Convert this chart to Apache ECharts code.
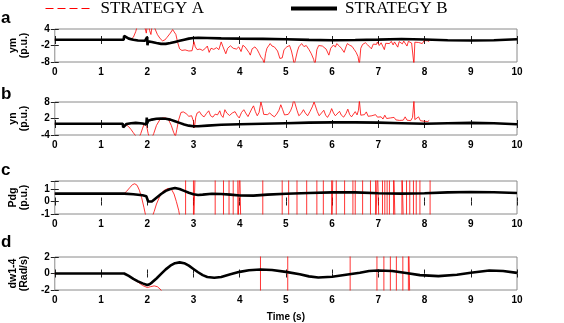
<!DOCTYPE html>
<html><head><meta charset="utf-8">
<script src="https://cdn.jsdelivr.net/npm/echarts@6/dist/echarts.min.js"></script>
<style>html,body{margin:0;padding:0;background:#fff}#c{width:564px;height:323px}</style>
</head><body><div id="c"></div><script>
// ---- data (time [s], value) ----
const blackA = [[0,0.1],[1.49,0.1],[1.5,1.5],[1.52,1.0],[1.6,0.5],[1.7,0.1],[1.8,-0.2],[1.95,-0.3],[1.99,-0.2],[2.0,1.1],[2.005,-1.9],[2.02,-0.5],[2.1,-0.7],[2.2,-1.1],[2.3,-1.4],[2.4,-1.4],[2.5,-1.1],[2.6,-0.7],[2.7,-0.3],[2.8,0.1],[2.9,0.5],[3.0,0.75],[3.1,0.8],[3.3,0.75],[3.6,0.6],[4.0,0.5],[4.5,0.4],[5.0,0.25],[5.5,0.05],[6.0,-0.1],[6.5,0.0],[7.0,0.15],[7.5,0.35],[8.0,0.2],[8.5,-0.1],[9.0,-0.2],[9.5,-0.1],[10,0.25]];
const redA = [[0,0.1],[1.49,0.1],[1.5,1.5],[1.52,1.0],[1.6,0.5],[1.65,0.3],[1.7,1.0],[1.75,3.0],[1.8,6],[1.85,8],[1.9,6],[1.95,4.5],[1.98,2.5],[2.0,5],[2.02,6],[2.05,3.5],[2.08,2.0],[2.1,4.5],[2.13,6],[2.17,4],[2.22,2],[2.28,0.5],[2.33,-0.3],[2.38,0.0],[2.43,1.0],[2.5,2.5],[2.55,3.8],[2.58,4.5],[2.62,2],[2.66,-1],[2.7,-3.2],[2.75,-3.8],[2.82,-3.6],[2.9,-4.0],[2.97,-3.9],[3.01,-0.6],[3.04,-2.5],[3.08,-3.5],[3.14,-3.3],[3.2,-3.8],[3.26,-3.0],[3.3,-2.2],[3.34,-4.5],[3.38,-3.0],[3.44,-3.4],[3.5,-2.8],[3.55,-3.5],[3.6,-0.7],[3.64,-2.5],[3.7,-5],[3.74,-3],[3.8,-2.1],[3.86,-3.0],[3.93,-3.3],[3.98,-2.5],[4.03,-4.2],[4.07,-1.9],[4.12,-2.6],[4.16,-3.1],[4.2,-4.5],[4.23,-5.5],[4.27,-3.2],[4.33,-2.5],[4.38,-3.5],[4.42,-4.8],[4.46,-6.2],[4.5,-7.0],[4.53,-8.5],[4.56,-5],[4.59,-3],[4.66,-1.3],[4.7,-2.2],[4.75,-2.5],[4.82,-4],[4.87,-6.7],[4.92,-6.5],[4.96,-3.5],[5.02,-2.5],[5.08,-2.0],[5.12,-4],[5.15,-6.2],[5.18,-9],[5.21,-8.5],[5.25,-4],[5.28,-2.5],[5.34,-1.3],[5.39,-2.4],[5.44,-2.0],[5.5,-3.5],[5.55,-5],[5.6,-7],[5.63,-9],[5.67,-3.5],[5.71,-2.0],[5.74,-1.3],[5.79,-2.2],[5.83,-1.6],[5.87,-3.3],[5.93,-5.5],[5.97,-3.0],[6.03,-1.8],[6.07,-2.6],[6.1,-1.3],[6.15,-2.1],[6.2,-3.0],[6.26,-4.5],[6.3,-2.5],[6.33,-1.3],[6.38,-1.9],[6.43,-2.3],[6.48,-3.5],[6.52,-4.5],[6.56,-6.0],[6.59,-9],[6.62,-3.0],[6.66,-1.6],[6.72,-1.0],[6.77,-1.8],[6.81,-1.2],[6.85,-3.2],[6.89,-1.5],[6.92,-0.9],[6.96,-1.6],[6.98,-0.7],[7.02,-2.0],[7.06,-1.0],[7.1,-1.5],[7.13,-3.5],[7.16,-1.2],[7.2,-0.6],[7.24,-1.3],[7.28,-0.5],[7.32,-1.8],[7.35,-0.7],[7.39,-1.1],[7.42,-2.6],[7.45,-0.6],[7.49,-0.3],[7.52,-1.4],[7.55,-0.4],[7.59,-1.0],[7.62,-2.2],[7.65,-0.5],[7.69,-0.2],[7.72,-1.1],[7.75,-0.4],[7.77,-9],[7.79,-0.8],[7.83,-0.1],[7.87,-0.9],[7.91,-0.3],[7.95,-1.3],[7.99,-0.2],[8.03,-0.8],[8.07,-0.3],[8.1,-0.6]];

const blackB = [[0,0.1],[1.47,0.1],[1.48,-1.2],[1.5,-0.6],[1.55,0],[1.65,0.3],[1.75,0.4],[1.9,0.2],[1.98,-0.2],[1.99,2.3],[2.0,0.2],[2.02,1.2],[2.1,1.6],[2.2,1.9],[2.3,2.0],[2.4,1.9],[2.5,1.6],[2.6,1.0],[2.7,0.4],[2.8,-0.2],[2.9,-0.6],[3.0,-0.8],[3.1,-0.8],[3.3,-0.6],[3.6,-0.3],[4.0,-0.1],[4.5,0.1],[5.0,0.3],[5.5,0.5],[6.0,0.6],[6.5,0.6],[7.0,0.5],[7.5,0.3],[8.0,0.1],[8.5,0.3],[9.0,0.4],[9.5,0.3],[10,-0.1]];
const redB = [[0,0.1],[1.47,0.1],[1.48,-1.2],[1.5,-0.6],[1.55,-0.3],[1.6,-1.0],[1.65,-2.0],[1.7,-3.2],[1.76,-4.5],[1.82,-5],[1.86,-3.5],[1.9,-1.5],[1.94,0.2],[1.97,0.5],[1.99,-1],[2.02,-3.5],[2.05,-5],[2.1,-5],[2.14,-3.5],[2.2,-0.5],[2.27,1.5],[2.33,2.2],[2.4,2.2],[2.46,1.6],[2.52,-0.5],[2.57,-3],[2.61,-4.5],[2.64,-2],[2.68,1.5],[2.73,4.2],[2.78,4.4],[2.84,3.8],[2.9,2.8],[2.96,3.0],[3.0,1.0],[3.02,-1.4],[3.05,2.5],[3.08,4.0],[3.13,4.5],[3.18,3.2],[3.23,2.6],[3.28,3.8],[3.33,4.8],[3.37,3.0],[3.42,2.5],[3.47,3.6],[3.52,3.3],[3.57,4.8],[3.6,3.2],[3.64,2.4],[3.68,5.2],[3.72,4.0],[3.78,3.1],[3.84,4.0],[3.9,4.5],[3.95,3.0],[3.99,2.2],[4.04,4.2],[4.09,5.2],[4.13,4.0],[4.18,2.7],[4.22,3.2],[4.27,5.8],[4.3,6.6],[4.34,4.5],[4.38,3.0],[4.42,4.2],[4.46,8],[4.49,6],[4.52,3.5],[4.56,2.8],[4.6,3.4],[4.65,4.0],[4.7,3.2],[4.75,2.6],[4.8,3.6],[4.85,5.0],[4.89,7.0],[4.93,5.2],[4.97,3.3],[5.01,2.6],[5.05,3.5],[5.1,4.8],[5.14,6.5],[5.17,9],[5.2,9],[5.24,5.0],[5.28,3.0],[5.33,3.8],[5.38,5.2],[5.42,4.0],[5.47,3.0],[5.52,4.5],[5.57,6.2],[5.61,8.0],[5.64,7.5],[5.68,4.5],[5.72,3.0],[5.77,4.0],[5.82,5.0],[5.86,3.2],[5.9,2.4],[5.95,3.8],[5.99,5.6],[6.03,4.0],[6.07,3.0],[6.11,3.6],[6.16,4.6],[6.2,3.2],[6.25,2.5],[6.3,3.8],[6.34,5.4],[6.38,3.4],[6.42,2.6],[6.46,3.3],[6.5,4.5],[6.54,3.3],[6.57,5],[6.59,8.5],[6.62,3.2],[6.66,2.5],[6.7,3.4],[6.74,4.4],[6.78,2.8],[6.82,2.2],[6.86,3.0],[6.9,2.3],[6.94,3.4],[6.98,2.5],[7.02,2.0],[7.06,2.6],[7.1,1.8],[7.14,3.2],[7.18,2.0],[7.22,1.5],[7.26,2.2],[7.3,1.6],[7.34,2.4],[7.38,1.5],[7.42,1.9],[7.46,1.3],[7.5,2.0],[7.54,1.4],[7.58,2.6],[7.62,1.4],[7.66,1.8],[7.7,1.2],[7.74,2.4],[7.77,8.5],[7.79,1.6],[7.83,1.0],[7.87,2.6],[7.91,1.2],[7.95,1.8],[7.99,1.0],[8.03,1.4],[8.07,0.9],[8.1,1.3]];

const blackC = [[0,0.63],[1.5,0.63],[1.7,0.58],[1.9,0.5],[1.98,0.42],[2.02,0.0],[2.05,-0.15],[2.1,0.0],[2.2,0.3],[2.3,0.6],[2.4,0.85],[2.5,1.0],[2.6,1.08],[2.7,1.0],[2.8,0.85],[2.9,0.7],[3.0,0.58],[3.1,0.52],[3.2,0.55],[3.4,0.62],[3.6,0.6],[3.8,0.55],[4.0,0.48],[4.3,0.47],[4.6,0.55],[5.0,0.62],[5.5,0.68],[6.0,0.73],[6.5,0.73],[7.0,0.66],[7.5,0.63],[8.0,0.66],[8.5,0.73],[9.0,0.76],[9.5,0.74],[10,0.68]];
const redC = [[0,0.63],[1.5,0.63],[1.55,0.8],[1.62,1.1],[1.68,1.35],[1.73,1.42],[1.78,1.3],[1.83,0.9],[1.88,0.3],[1.93,-0.5],[1.97,-1.2],[2.1,-1.3],[2.15,-0.8],[2.2,-0.2],[2.27,0.4],[2.35,0.85],[2.45,1.05],[2.52,1.0],[2.58,0.6],[2.63,0],[2.68,-0.7],[2.72,-1.5],[2.83,-3],[2.83,3],[3.0,3],[3.0,-3],[3.04,-3],[3.04,3],[3.47,3],[3.47,-3],[3.65,-3],[3.65,3],[3.77,3],[3.77,-3],[3.86,-3],[3.86,3],[3.96,3],[3.96,-3],[4.0,-3],[4.0,3],[4.03,3],[4.03,-3],[4.5,-3],[4.5,3],[4.92,3],[4.92,-3],[5.06,-3],[5.06,3],[5.24,3],[5.24,-3],[5.45,-3],[5.45,3],[5.67,3],[5.67,-3],[5.81,-3],[5.81,3],[5.99,3],[5.99,-3],[6.02,-3],[6.02,3],[6.09,3],[6.09,-3],[6.27,-3],[6.27,3],[6.45,3],[6.45,-3],[6.5,-3],[6.5,3],[6.66,3],[6.66,-3],[6.83,-3],[6.83,3],[6.94,3],[6.94,-3],[6.98,-3],[6.98,3],[7.02,3],[7.02,-3],[7.09,-3],[7.09,3],[7.14,3],[7.14,-3],[7.19,-3],[7.19,3],[7.24,3],[7.24,-3],[7.33,-3],[7.33,3],[7.37,3],[7.37,-3],[7.51,-3],[7.51,3],[7.55,3],[7.55,-3],[7.61,-3],[7.61,3],[7.68,3],[7.68,-3],[7.76,-3],[7.76,3],[7.82,3],[7.82,-3],[7.9,-3],[7.9,3],[8.12,3],[8.12,-3]];

const blackD = [[0,0],[1.5,0],[1.6,-0.3],[1.7,-0.65],[1.8,-0.95],[1.9,-1.2],[2.0,-1.4],[2.05,-1.3],[2.1,-1.1],[2.2,-0.6],[2.3,-0.05],[2.4,0.5],[2.5,0.95],[2.6,1.25],[2.7,1.35],[2.8,1.25],[2.9,0.95],[3.0,0.55],[3.1,0.15],[3.2,-0.2],[3.3,-0.42],[3.45,-0.52],[3.6,-0.42],[3.8,-0.1],[4.0,0.2],[4.2,0.4],[4.45,0.48],[4.7,0.42],[5.0,0.2],[5.3,-0.1],[5.5,-0.35],[5.7,-0.48],[6.0,-0.4],[6.3,-0.15],[6.6,0.1],[6.8,0.3],[7.0,0.36],[7.3,0.3],[7.6,0.05],[7.9,-0.2],[8.3,-0.32],[8.7,-0.15],[9.0,0.1],[9.4,0.36],[9.7,0.3],[10,0.08]];
const redD = [[0,0],[1.5,0],[1.6,-0.32],[1.7,-0.7],[1.8,-1.05],[1.9,-1.45],[2.0,-1.7],[2.07,-1.6],[2.15,-1.5],[2.22,-1.6],[2.3,-2.0],[2.35,-3],[2.4,-6],[4.45,-6],[4.45,6],[5.04,6],[5.04,-6],[6.39,-6],[6.39,6],[6.97,6],[6.97,-6],[7.12,-6],[7.12,6],[7.26,6],[7.26,-6],[7.39,-6],[7.39,6],[7.53,6],[7.53,-6],[7.65,-6],[7.65,6],[7.69,6],[7.69,-6],[8.1,-6]];

// ---- axes / labels ----
const panelLetters = ['a','b','c','d'];
const yNames = ['ym\n(p.u.)','yn\n(p.u.)','Pdg\n(p.u.)','dw1-4\n(Rad/s)'];
const yMin = [-8,-4,-1,-2];
const yMax = [4,8,1.64,2];
const yStep = [6,6,1,2];
const xMin = 0, xMax = 10, xStep = 1;
const legendNames = ['STRATEGY A','STRATEGY B'];

const redSets = [redA, redB, redC, redD];
const blackSets = [blackA, blackB, blackC, blackD];

// ---- layout ----
const gridTops = [29, 102, 181, 257];
const letterTops = [10, 86, 162, 234];
const GH = 33;
const labelFont = {fontFamily:'Liberation Sans, Arial, sans-serif', fontWeight:'bold', fontSize:10, color:'#000'};
const frame = '#8a8a8a', tickCol = '#222';

const grid = [], xAxis = [], yAxis = [], series = [], title = [];
gridTops.forEach((t, i) => {
  grid.push({left:47, width:470, top:t, height:GH, show:true, borderColor:frame, borderWidth:1, backgroundColor:'transparent'});
  const last = i === 3;
  xAxis.push({type:'value', gridIndex:i, min:xMin, max:xMax, interval:xStep, position:'bottom',
    axisLine:{show:false}, splitLine:{show:false},
    axisTick:{show:true, inside:true, length:4, lineStyle:{color:tickCol, width:1}},
    axisLabel:Object.assign({margin:5}, labelFont),
    name: last ? 'Time (s)' : '', nameLocation:'middle', nameGap:22,
    nameTextStyle:Object.assign({}, labelFont)});
  xAxis.push({type:'value', gridIndex:i, min:xMin, max:xMax, interval:xStep, position:'top',
    axisLine:{show:false}, splitLine:{show:false}, axisLabel:{show:false},
    axisTick:{show:true, inside:true, length:4, lineStyle:{color:tickCol, width:1}}});
  yAxis.push({type:'value', gridIndex:i, min:yMin[i], max:yMax[i], interval:yStep[i], position:'left',
    axisLine:{show:false}, splitLine:{show:false},
    axisTick:{show:true, inside:true, length:4, lineStyle:{color:tickCol, width:1}},
    axisLabel:Object.assign({margin:5, formatter:(v)=> (Math.abs(v - Math.round(v)) < 1e-9 ? String(Math.round(v)) : '')}, labelFont),
    name: yNames[i], nameLocation:'middle', nameRotate:90, nameGap:24,
    nameTextStyle:Object.assign({lineHeight:11}, labelFont, {fontSize:10.5})});
  yAxis.push({type:'value', gridIndex:i, min:yMin[i], max:yMax[i], interval:yStep[i], position:'right',
    axisLine:{show:false}, splitLine:{show:false}, axisLabel:{show:false},
    axisTick:{show:true, inside:true, length:4, lineStyle:{color:tickCol, width:1}}});
  title.push({text:panelLetters[i], left:1, top:letterTops[i], padding:0,
    textStyle:{fontFamily:'Liberation Sans, Arial, sans-serif', fontWeight:'bold', fontSize:17, color:'#000'}});
  series.push({type:'line', name:legendNames[0], xAxisIndex:2*i, yAxisIndex:2*i, data:redSets[i],
    showSymbol:false, symbol:'none', animation:false, z:2,
    lineStyle:{color:'#ff0000', width:0.8}, itemStyle:{color:'#ff0000'}});
  series.push({type:'line', name:legendNames[1], xAxisIndex:2*i, yAxisIndex:2*i, data:blackSets[i],
    showSymbol:false, symbol:'none', animation:false, z:3,
    lineStyle:{color:'#000', width:2.6}, itemStyle:{color:'#000'}});
});

const legTxt = {fontFamily:'Liberation Serif, Times New Roman, serif', fontSize:17, color:'#000'};
const legend = [
  {left:45, top:0, padding:0, itemWidth:45, itemHeight:12, selectedMode:false,
   data:[{name:legendNames[0], lineStyle:{color:'#ff0000', width:1, type:[8,4]}, itemStyle:{opacity:0}}],
   textStyle:Object.assign({padding:[0,0,0,5]}, legTxt)},
  {left:289, top:0, padding:0, itemWidth:46, itemHeight:12, selectedMode:false,
   data:[{name:legendNames[1], lineStyle:{color:'#000', width:4}, itemStyle:{opacity:0}}],
   textStyle:Object.assign({padding:[0,0,0,3]}, legTxt)}
];

const chart = echarts.init(document.getElementById('c'));
chart.setOption({animation:false, backgroundColor:'#fff', title, legend, grid, xAxis, yAxis, series});
</script></body></html>
